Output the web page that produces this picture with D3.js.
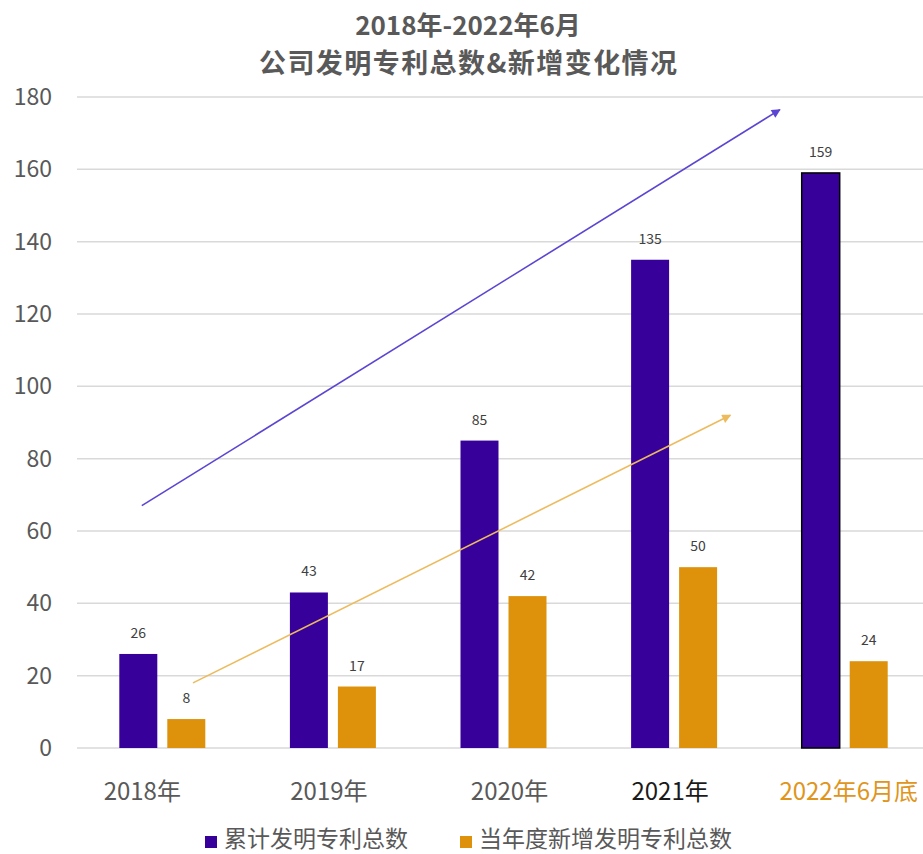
<!DOCTYPE html>
<html>
<head>
<meta charset="utf-8">
<script src="https://cdn.jsdelivr.net/npm/d3@7"></script>
<style>
  html, body { margin: 0; padding: 0; background: #fff; }
  svg { display: block; font-family: "Noto Sans CJK SC", "Noto Sans", sans-serif; }
</style>
</head>
<body>
<svg id="chart" width="923" height="854"></svg>
<script>
// ---- data ----
const categories = ["2018年", "2019年", "2020年", "2021年", "2022年6月底"];
const seriesNames = ["累计发明专利总数", "当年度新增发明专利总数"];
const cumulative = [26, 43, 85, 135, 159];
const newPerYear = [8, 17, 42, 50, 24];
const yTicks = [0, 20, 40, 60, 80, 100, 120, 140, 160, 180];
const titleLines = ["2018年-2022年6月", "公司发明专利总数&新增变化情况"];
const labelColors = ["#595959", "#595959", "#595959", "#1a1a1a", "#E0951C"];
// trend arrows: [category position (0..5), value]
const trendCumulative = [[0.38, 67], [4.12, 176.5]];
const trendNew = [[0.68, 18], [3.83, 92]];

(function () {
const colors = ["#38009A", "#DE920C"];
const arrowColors = ["#5C45D2", "#EDBB5E"];
const labelShift = [-20, -4, 6, -4, 4];

const svg = d3.select("#chart");
const W = 923;
const mLeft = 77, mRight = 930, mTop = 97, mBottom = 748;

const x0 = d3.scaleBand().domain(categories).range([mLeft, mRight]).paddingInner(0).paddingOuter(0);
const xPos = d3.scaleLinear().domain([0, categories.length]).range([mLeft, mRight]);
const y = d3.scaleLinear().domain([0, 180]).range([mBottom, mTop]);
const x1 = d3.scaleBand().domain(seriesNames).range([-43, 43]).paddingInner(10 / 48).paddingOuter(0);

// title
svg.append("text").attr("x", 468).attr("y", 35).attr("text-anchor", "middle")
  .attr("font-size", 26).attr("font-weight", "bold").attr("fill", "#595959")
  .text(titleLines[0]);
svg.append("text").attr("x", 468).attr("y", 73).attr("text-anchor", "middle")
  .attr("font-size", 27).attr("font-weight", "bold").attr("fill", "#595959")
  .attr("textLength", 418).attr("lengthAdjust", "spacing")
  .text(titleLines[1]);

// gridlines
svg.append("g").selectAll("line").data(yTicks).join("line")
  .attr("x1", mLeft).attr("x2", W)
  .attr("y1", d => y(d)).attr("y2", d => y(d))
  .attr("stroke", "#d9d9d9").attr("stroke-width", 1.5);

// y axis labels
const yAxis = d3.axisLeft(y).tickValues(yTicks).tickSize(0).tickPadding(0);
const yg = svg.append("g").attr("transform", `translate(52,0)`).call(yAxis);
yg.select(".domain").remove();
yg.selectAll("text").attr("font-size", 23).attr("fill", "#595959")
  .attr("font-family", "'Noto Sans CJK SC', sans-serif");

// bars
const rows = categories.map((c, i) => ({ cat: c, i, vals: [cumulative[i], newPerYear[i]] }));
const groups = svg.append("g").selectAll("g").data(rows).join("g")
  .attr("transform", d => `translate(${x0(d.cat) + x0.bandwidth() / 2},0)`);

groups.selectAll("rect").data(d => d.vals.map((v, k) => ({ v, k, i: d.i }))).join("rect")
  .attr("x", d => x1(seriesNames[d.k]))
  .attr("width", x1.bandwidth())
  .attr("y", d => y(d.v))
  .attr("height", d => y(0) - y(d.v))
  .attr("fill", d => colors[d.k])
  .attr("stroke", d => (d.k === 0 && d.i === categories.length - 1) ? "#000" : "none")
  .attr("stroke-width", 1.5);

groups.selectAll("text").data(d => d.vals.map((v, k) => ({ v, k }))).join("text")
  .attr("x", d => x1(seriesNames[d.k]) + x1.bandwidth() / 2)
  .attr("y", d => y(d.v) - 16)
  .attr("text-anchor", "middle")
  .attr("font-size", 14).attr("fill", "#404040")
  .text(d => d.v);

// x axis labels
svg.append("g").selectAll("text").data(categories).join("text")
  .attr("x", (d, i) => x0(d) + x0.bandwidth() / 2 + labelShift[i])
  .attr("y", 800)
  .attr("text-anchor", "middle")
  .attr("font-size", 24)
  .attr("fill", (d, i) => labelColors[i])
  .text(d => d);

// arrows
const defs = svg.append("defs");
arrowColors.forEach((c, k) => {
  defs.append("marker").attr("id", "arr" + k)
    .attr("viewBox", "0 0 10 10").attr("refX", 9).attr("refY", 5)
    .attr("markerWidth", 10).attr("markerHeight", 9).attr("markerUnits", "userSpaceOnUse")
    .attr("orient", "auto")
    .append("path").attr("d", "M0,0 L10,5 L0,10 Z").attr("fill", c);
});
[trendCumulative, trendNew].forEach((pts, k) => {
  svg.append("line")
    .attr("x1", xPos(pts[0][0])).attr("y1", y(pts[0][1]))
    .attr("x2", xPos(pts[1][0])).attr("y2", y(pts[1][1]))
    .attr("stroke", arrowColors[k]).attr("stroke-width", 1.6)
    .attr("marker-end", `url(#arr${k})`);
});

// legend
const legendX = [205, 460];
const lg = svg.append("g").selectAll("g").data(seriesNames).join("g")
  .attr("transform", (d, i) => `translate(${legendX[i]},0)`);
lg.append("rect").attr("x", 0).attr("y", 836).attr("width", 12).attr("height", 12)
  .attr("fill", (d, i) => colors[i]);
lg.append("text").attr("x", 19).attr("y", 847).attr("font-size", 23).attr("fill", "#595959")
  .text(d => d);
})();
</script>
</body>
</html>
